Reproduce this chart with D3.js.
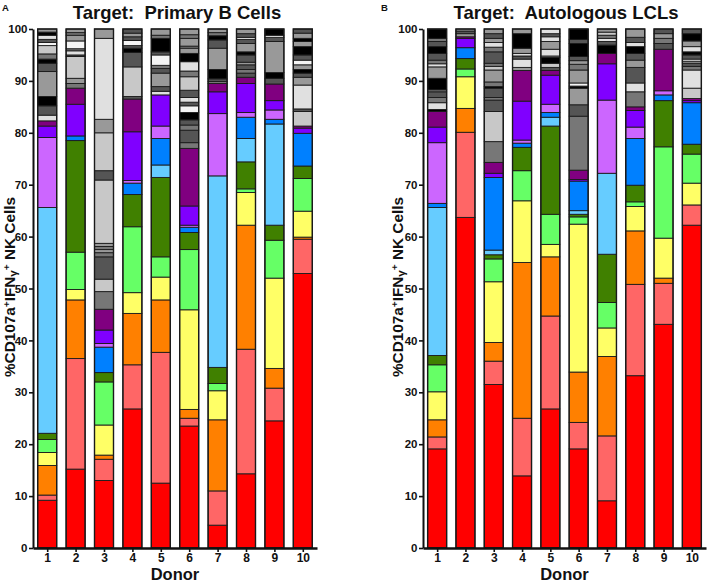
<!DOCTYPE html>
<html><head><meta charset="utf-8">
<script src="https://cdn.jsdelivr.net/npm/d3@7"></script>
<style>
body{margin:0;background:#fff;}
svg text{font-family:"Liberation Sans",Arial,sans-serif;font-weight:bold;fill:#111;}
</style></head>
<body><svg id="chart" width="708" height="583"></svg>
<script>
// ---------- data ----------
const donors = ["1","2","3","4","5","6","7","8","9","10"];
const yTicks = [0,10,20,30,40,50,60,70,80,90,100];
const colorKeys = ["R","S","O","Y","LG","G","LB","B","L","V","P","W","g1","g2","g3","g4","g5","K"];
const colorValues = ["#ff0000","#ff6666","#ff8000","#ffff66","#66ff66","#408000","#66ccff","#0080ff","#cc66ff","#8000ff","#800080","#f4f4f4","#e0e0e0","#c8c8c8","#999999","#777777","#555555","#000000"];

// each entry: [colour key, cumulative top of segment in %]
const primaryB1 = [["R",9.2],["S",10.2],["O",15.9],["Y",18.4],["LG",20.9],["G",22.1],["LB",65.6],["L",79.1],["V",81.3],["P",82.3],["g1",83.4],["g5",85.2],["K",87.0],["g3",91.8],["g5",93.4],["K",94.2],["g4",95.2],["g2",96.8],["W",97.4],["g5",98.0],["g1",98.8],["K",99.4],["g3",100]];
const primaryB2 = [["R",15.2],["S",36.5],["O",47.8],["Y",49.8],["LG",57.0],["G",78.5],["B",79.4],["V",85.5],["P",88.6],["g4",89.5],["g3",90.5],["g2",94.7],["g5",95.0],["g1",95.8],["g4",96.2],["W",97.7],["g3",98.8],["g4",99.3],["g3",100]];
const primaryB3 = [["R",13.0],["S",17.1],["O",17.9],["Y",23.7],["LG",32.0],["G",33.8],["B",38.7],["L",39.4],["V",42.0],["P",46.0],["g4",49.4],["g2",51.8],["g5",56.1],["g4",56.9],["g3",57.5],["g4",58.1],["g3",58.7],["g2",70.9],["g5",72.7],["g2",80.0],["g3",82.6],["g1",98.2],["g3",100]];
const primaryB4 = [["R",26.8],["S",35.3],["O",45.2],["Y",49.2],["LG",61.9],["G",68.1],["B",70.3],["L",70.8],["V",80.2],["P",86.5],["g5",87.0],["g2",92.7],["g5",95.5],["K",96.3],["g5",96.8],["W",97.8],["g5",98.5],["g3",99.2],["g5",100]];
const primaryB5 = [["R",12.5],["S",37.7],["O",47.8],["Y",52.2],["LG",56.1],["G",71.4],["LB",73.8],["B",78.9],["L",81.3],["V",87.3],["g1",88.0],["g5",88.9],["g3",91.5],["g5",92.4],["g4",93.0],["W",95.0],["g5",95.6],["K",98.2],["g4",98.8],["g3",100]];
const primaryB6 = [["R",23.5],["S",25.0],["O",26.7],["Y",45.9],["LG",57.5],["G",60.8],["B",61.8],["L",62.2],["V",65.9],["P",77.0],["g4",78.1],["g5",80.5],["g4",81.5],["g5",82.5],["K",83.9],["W",85.2],["g5",85.9],["g1",86.8],["g5",88.2],["g2",90.8],["g4",91.9],["g1",93.7],["K",95.3],["g3",96.3],["g4",96.7],["g3",98.2],["g4",98.9],["g3",100]];
const primaryB7 = [["R",4.4],["S",11.0],["O",24.7],["Y",30.3],["LG",31.7],["G",34.8],["LB",71.7],["L",83.7],["V",87.9],["P",89.5],["g4",89.9],["g5",90.4],["K",92.2],["g3",96.3],["g5",97.9],["K",98.7],["g4",99.3],["g3",100]];
const primaryB8 = [["R",14.3],["S",38.3],["O",62.2],["Y",68.5],["LG",69.2],["G",74.4],["LB",78.9],["B",83.0],["L",83.9],["V",89.5],["P",90.7],["g5",91.5],["g4",92.2],["g5",93.1],["g3",93.6],["g5",95.0],["K",95.6],["g3",97.2],["g5",98.0],["g1",98.4],["g5",99.1],["g3",100]];
const primaryB9 = [["R",24.5],["S",30.8],["O",34.6],["Y",52.0],["LG",59.3],["G",62.2],["LB",81.7],["B",82.6],["L",84.4],["V",86.2],["P",89.4],["g5",90.5],["K",91.6],["g3",97.6],["g5",98.4],["W",98.8],["K",100]];
const primaryB10 = [["R",52.9],["S",59.5],["O",59.9],["Y",64.9],["LG",71.2],["G",73.6],["B",79.9],["V",80.9],["P",81.3],["g2",84.1],["g5",84.6],["g1",89.2],["g3",90.7],["g5",91.5],["K",92.2],["g3",93.1],["W",94.0],["g5",95.0],["K",96.6],["g3",97.6],["K",98.2],["g3",99.2],["g5",100]];

const lcl1 = [["R",19.1],["S",21.4],["O",24.7],["Y",30.1],["LG",35.3],["G",37.1],["LB",65.6],["B",66.4],["L",78.1],["V",81.1],["P",84.1],["K",84.5],["g1",85.8],["g4",86.8],["g5",87.9],["g4",88.3],["K",90.5],["g3",92.7],["g1",93.3],["g4",94.0],["g5",95.3],["K",96.6],["g5",97.6],["g4",98.2],["K",100]];
const lcl2 = [["R",63.7],["S",80.1],["O",84.7],["Y",90.8],["LG",92.3],["G",94.3],["B",96.4],["V",98.2],["P",98.5],["g3",99.1],["g5",99.6],["g3",100]];
const lcl3 = [["R",31.5],["S",36.0],["O",39.6],["Y",51.3],["LG",55.7],["G",56.5],["LB",57.4],["B",71.4],["V",72.2],["P",74.3],["g4",78.3],["g2",84.1],["g5",86.3],["g4",86.8],["g5",88.6],["K",88.9],["g4",89.8],["g3",92.1],["g2",92.8],["g4",93.4],["g5",95.6],["g4",96.5],["g1",97.4],["g3",98.2],["g5",99.1],["g3",100]];
const lcl4 = [["R",13.9],["S",25.0],["O",55.0],["Y",66.9],["LG",72.7],["G",77.2],["B",78.0],["L",78.6],["V",86.1],["P",92.0],["g3",92.6],["g1",94.2],["g5",94.8],["g1",95.3],["g3",96.3],["K",99.1],["g3",100]];
const lcl5 = [["R",26.8],["S",44.7],["O",56.1],["Y",58.5],["LG",64.3],["G",81.3],["LB",83.0],["B",83.9],["L",85.5],["V",91.1],["P",92.0],["g5",92.6],["g2",93.4],["K",94.5],["g3",94.8],["g1",96.1],["g3",97.6],["g1",98.5],["g5",99.1],["g1",100]];
const lcl6 = [["R",19.1],["S",24.2],["O",33.9],["Y",62.4],["LG",63.8],["G",64.3],["LB",65.0],["B",70.7],["V",71.0],["P",72.8],["g4",83.2],["g5",85.4],["g3",88.6],["K",89.0],["W",89.6],["g3",92.1],["g4",93.2],["g3",93.9],["g5",94.7],["K",97.2],["g5",98.0],["K",100]];
const lcl7 = [["R",9.1],["S",21.6],["O",36.9],["Y",42.4],["LG",47.3],["G",56.6],["LB",72.2],["L",86.3],["V",93.3],["P",95.3],["K",96.9],["g5",97.6],["g1",98.2],["g4",98.8],["g2",99.4],["g3",100]];
const lcl8 = [["R",33.2],["S",50.8],["O",61.1],["Y",65.8],["LG",66.7],["G",69.9],["B",78.9],["L",81.1],["V",84.3],["P",85.0],["g4",87.9],["g1",89.6],["g5",92.6],["g3",94.0],["g5",95.3],["K",96.6],["g1",97.4],["g5",98.4],["g3",100]];
const lcl9 = [["R",43.1],["S",51.0],["O",52.0],["Y",59.7],["LG",77.3],["G",86.2],["B",87.3],["L",88.1],["P",96.1],["g5",97.2],["g4",98.2],["g3",99.1],["g5",100]];
const lcl10 = [["R",62.2],["S",66.1],["Y",70.3],["LG",75.9],["G",77.8],["B",85.8],["V",86.2],["P",86.6],["g2",88.6],["g1",92.1],["g4",92.8],["g5",93.4],["g3",93.8],["W",94.2],["g5",95.0],["K",95.6],["g1",96.6],["g3",97.7],["K",99.1],["g5",100]];

const primaryBBars = [primaryB1,primaryB2,primaryB3,primaryB4,primaryB5,primaryB6,primaryB7,primaryB8,primaryB9,primaryB10];
const lclBars = [lcl1,lcl2,lcl3,lcl4,lcl5,lcl6,lcl7,lcl8,lcl9,lcl10];

// ---------- drawing ----------
const svg = d3.select("#chart");
const color = d3.scaleOrdinal().domain(colorKeys).range(colorValues);
const y = d3.scaleLinear().domain([0,100]).range([548,29]);
const FONT = "Liberation Sans, Arial, sans-serif";

function panel(opts){
  const g = svg.append("g");
  const x = d3.scalePoint().domain(donors).range([opts.x0, opts.x1]).padding(0.5);
  const bw = 19;
  opts.bars.forEach((segs, i) => {
    const bar = g.append("g");
    const rows = segs.map((s, j) => ({key: s[0], lo: j === 0 ? 0 : segs[j-1][1], hi: s[1]}));
    bar.selectAll("rect").data(rows).join("rect")
      .attr("x", x(donors[i]) - bw/2)
      .attr("width", bw)
      .attr("y", d => y(d.hi))
      .attr("height", d => y(d.lo) - y(d.hi))
      .attr("fill", d => color(d.key))
      .attr("stroke", "#1a1a1a")
      .attr("stroke-width", 0.9);
    bar.append("rect")
      .attr("x", x(donors[i]) - bw/2).attr("width", bw)
      .attr("y", y(100)).attr("height", y(0) - y(100))
      .attr("fill", "none").attr("stroke", "#1a1a1a").attr("stroke-width", 1.4);
  });
  // y axis
  const ya = g.append("g").attr("transform", `translate(${opts.x0},0)`)
    .call(d3.axisLeft(y).tickValues(yTicks).tickSize(4).tickPadding(1.5).tickSizeOuter(0));
  ya.select(".domain").attr("stroke-width", 2).attr("stroke", "#111");
  ya.selectAll(".tick line").attr("stroke-width", 1.6).attr("stroke", "#111");
  ya.selectAll("text").style("font-size", "11.5px").style("font-weight", "bold").style("font-family", FONT).attr("fill", "#111");
  // x axis
  const xa = g.append("g").attr("transform", `translate(0,${y(0)})`)
    .call(d3.axisBottom(x).tickSize(4).tickPadding(1.5).tickSizeOuter(0));
  xa.select(".domain").attr("stroke-width", 2.4).attr("stroke", "#111");
  xa.selectAll(".tick line").attr("stroke-width", 1.6).attr("stroke", "#111");
  xa.selectAll("text").style("font-size", "12px").style("font-weight", "bold").style("font-family", FONT).attr("fill", "#111");
  // titles
  svg.append("text").attr("x", opts.titleX).attr("y", 19).attr("text-anchor", "middle")
    .style("font-size", "18.5px").style("white-space", "pre").text(opts.title);
  svg.append("text").attr("x", opts.letterX).attr("y", 11).style("font-size", "9.5px").text(opts.letter);
  svg.append("text").attr("x", (opts.x0 + opts.x1)/2).attr("y", 579.5).attr("text-anchor", "middle")
    .style("font-size", "16.5px").text("Donor");
  const yl = svg.append("text").attr("transform", `translate(${opts.labelX},287) rotate(-90)`)
    .attr("text-anchor", "middle").style("font-size", "14.5px")
    .attr("textLength", 180).attr("lengthAdjust", "spacingAndGlyphs");
  yl.append("tspan").text("%CD107a");
  yl.append("tspan").attr("baseline-shift", "super").style("font-size", "9.5px").text("+");
  yl.append("tspan").text("IFN");
  yl.append("tspan").attr("baseline-shift", "-2").style("font-size", "11px").text("γ");
  yl.append("tspan").attr("baseline-shift", "super").style("font-size", "9.5px").text("+");
  yl.append("tspan").text(" NK Cells");
}

panel({x0: 33, x1: 317, bars: primaryBBars, title: "Target:  Primary B Cells", titleX: 177, letter: "A", letterX: 2, labelX: 15});
panel({x0: 423, x1: 706, bars: lclBars, title: "Target:  Autologous LCLs", titleX: 566, letter: "B", letterX: 381, labelX: 403});
</script></body></html>
